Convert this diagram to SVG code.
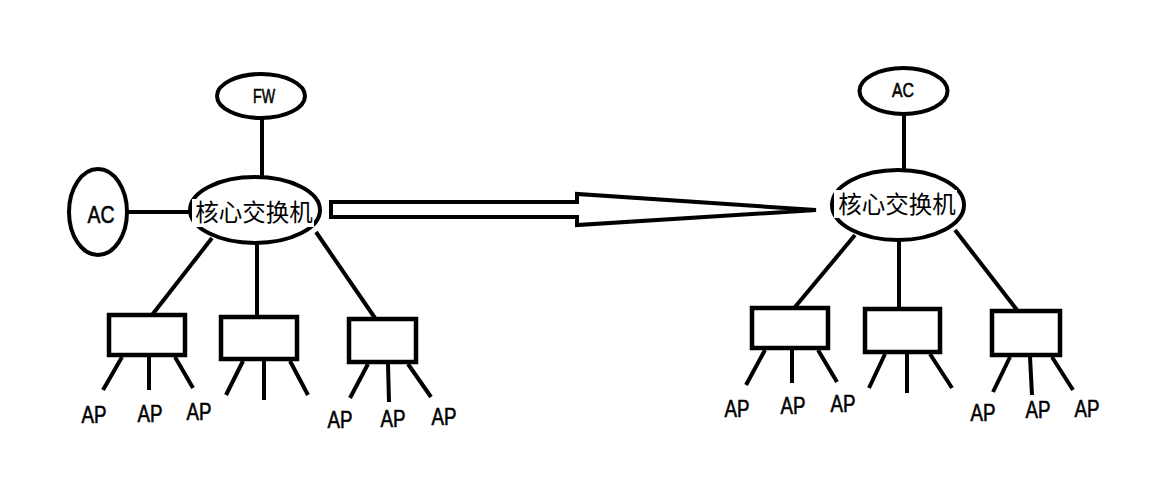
<svg xmlns="http://www.w3.org/2000/svg" width="1168" height="477" viewBox="0 0 1168 477">
<style>
.s{fill:none;stroke:#000;stroke-width:4}
.n{fill:#fff;stroke:#000;stroke-width:4}
.b{fill:#fff;stroke:#000;stroke-width:4.5}
.t{font-family:"Liberation Sans","Noto Sans CJK SC",sans-serif;fill:#000;stroke:#000;stroke-width:0.6;text-anchor:middle}
.c{font-family:"Noto Sans CJK SC","Liberation Sans",sans-serif;font-size:23.5px;fill:#000;text-anchor:middle}
.ap{font-size:23.5px}
</style>
<rect width="1168" height="477" fill="#fff"/>
<g id="connectors" class="s">
<line x1="262" y1="118" x2="262" y2="179"/>
<line x1="127" y1="212" x2="190" y2="212"/>
<line x1="212" y1="238" x2="152" y2="315"/>
<line x1="257" y1="243" x2="257" y2="317"/>
<line x1="316" y1="232" x2="375" y2="318"/>
<line x1="122" y1="357" x2="103" y2="390"/>
<line x1="149" y1="357" x2="149" y2="390"/>
<line x1="175" y1="357" x2="193" y2="388"/>
<line x1="243" y1="361" x2="226" y2="395"/>
<line x1="264" y1="361" x2="264" y2="400"/>
<line x1="290" y1="361" x2="308" y2="395"/>
<line x1="368" y1="364" x2="350" y2="398"/>
<line x1="388" y1="364" x2="389" y2="402"/>
<line x1="408" y1="364" x2="431" y2="397"/>
<line x1="904" y1="114" x2="904" y2="170"/>
<line x1="855" y1="235" x2="795" y2="307"/>
<line x1="899" y1="241" x2="899" y2="309"/>
<line x1="955" y1="230" x2="1017" y2="310"/>
<line x1="765" y1="350" x2="746" y2="385"/>
<line x1="792" y1="350" x2="792" y2="383"/>
<line x1="818" y1="350" x2="837" y2="382"/>
<line x1="885" y1="354" x2="869" y2="388"/>
<line x1="907" y1="354" x2="907" y2="393"/>
<line x1="930" y1="354" x2="952" y2="388"/>
<line x1="1010" y1="357" x2="993" y2="392"/>
<line x1="1030" y1="357" x2="1032" y2="395"/>
<line x1="1052" y1="357" x2="1073" y2="390"/>
<polygon points="331,202 577,202 577,194 816,210 577,225 577,217 331,217" stroke-linejoin="miter"/>
</g>
<g id="fw-left"><ellipse class="n" cx="261" cy="96" rx="44" ry="22"/><text class="t" x="264" y="103" font-size="20" textLength="22" lengthAdjust="spacingAndGlyphs">FW</text></g>
<g id="ac-left"><ellipse class="n" cx="98" cy="212" rx="29" ry="43"/><text class="t" x="101" y="223" font-size="24.5" textLength="27" lengthAdjust="spacingAndGlyphs">AC</text></g>
<g id="core-left"><ellipse class="n" cx="255" cy="210" rx="65" ry="33"/><rect x="192" y="199" width="122" height="28" fill="#fff"/><text class="c" x="254" y="221">核心交换机</text></g>
<g id="sw-l1"><rect class="b" x="109" y="315" width="76" height="40"/></g>
<g id="sw-l2"><rect class="b" x="221" y="317" width="76" height="42"/></g>
<g id="sw-l3"><rect class="b" x="349" y="319" width="67" height="43"/></g>
<g id="ap-left" class="t ap">
<text x="94" y="423" textLength="25" lengthAdjust="spacingAndGlyphs">AP</text>
<text x="150" y="422" textLength="25" lengthAdjust="spacingAndGlyphs">AP</text>
<text x="199" y="420" textLength="25" lengthAdjust="spacingAndGlyphs">AP</text>
<text x="340" y="428" textLength="25" lengthAdjust="spacingAndGlyphs">AP</text>
<text x="393" y="427" textLength="25" lengthAdjust="spacingAndGlyphs">AP</text>
<text x="444" y="425" textLength="25" lengthAdjust="spacingAndGlyphs">AP</text>
</g>
<g id="ac-right"><ellipse class="n" cx="903.5" cy="91" rx="44" ry="23"/><text class="t" x="903" y="97" font-size="20" textLength="22" lengthAdjust="spacingAndGlyphs">AC</text></g>
<g id="core-right"><ellipse class="n" cx="898" cy="205" rx="66" ry="35"/><rect x="834" y="190" width="123" height="28" fill="#fff"/><text class="c" x="897" y="213">核心交换机</text></g>
<g id="sw-r1"><rect class="b" x="752" y="308" width="76" height="40"/></g>
<g id="sw-r2"><rect class="b" x="865" y="309" width="75" height="43"/></g>
<g id="sw-r3"><rect class="b" x="992" y="311" width="68" height="44"/></g>
<g id="ap-right" class="t ap">
<text x="737" y="417" textLength="25" lengthAdjust="spacingAndGlyphs">AP</text>
<text x="793" y="414" textLength="25" lengthAdjust="spacingAndGlyphs">AP</text>
<text x="843" y="412" textLength="25" lengthAdjust="spacingAndGlyphs">AP</text>
<text x="983" y="421" textLength="25" lengthAdjust="spacingAndGlyphs">AP</text>
<text x="1038" y="418" textLength="25" lengthAdjust="spacingAndGlyphs">AP</text>
<text x="1087" y="417" textLength="25" lengthAdjust="spacingAndGlyphs">AP</text>
</g>
</svg>
